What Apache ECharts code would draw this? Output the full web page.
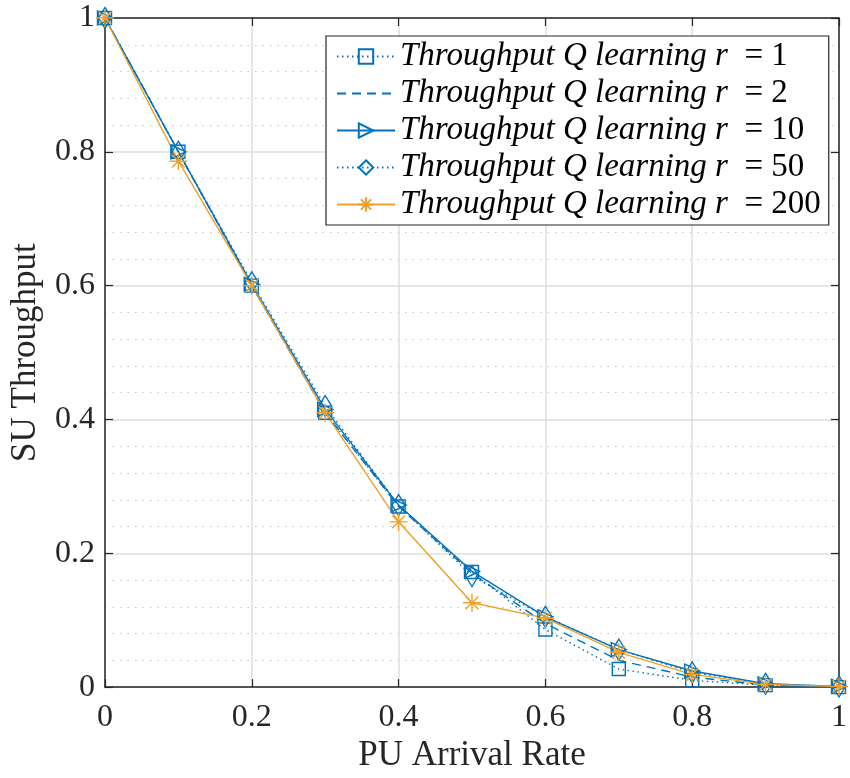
<!DOCTYPE html>
<html>
<head>
<meta charset="utf-8">
<script src="https://cdn.jsdelivr.net/npm/echarts@6/dist/echarts.min.js"></script>
<style>html,body{margin:0;padding:0;background:#fff}#c{width:850px;height:778px}</style>
</head>
<body>
<div id="c"></div>
<script>
const xValues = [0, 0.1, 0.2, 0.3, 0.4, 0.5, 0.6, 0.7, 0.8, 0.9, 1.0];
const r1   = [1, 0.800, 0.600, 0.410, 0.270, 0.172, 0.086, 0.027, 0.010, 0.003, 0.000];
const r2   = [1, 0.800, 0.600, 0.410, 0.270, 0.170, 0.095, 0.040, 0.015, 0.003, 0.000];
const r10  = [1, 0.800, 0.602, 0.415, 0.272, 0.173, 0.105, 0.056, 0.024, 0.005, 0.001];
const r50  = [1, 0.800, 0.605, 0.420, 0.272, 0.166, 0.105, 0.056, 0.022, 0.005, 0.001];
const r200 = [1, 0.786, 0.600, 0.410, 0.247, 0.126, 0.103, 0.052, 0.019, 0.004, 0.001];
const seriesNames = [
  'Throughput Q learning r = 1',
  'Throughput Q learning r = 2',
  'Throughput Q learning r = 10',
  'Throughput Q learning r = 50',
  'Throughput Q learning r = 200'
];
const xTicks = [0, 0.2, 0.4, 0.6, 0.8, 1];

const BLUE = '#0072BD';
const ORANGE = '#EDA02A';
const FONT = 'Liberation Serif';
const pair = ys => xValues.map((x, i) => [x, ys[i]]);
const star = 'path://M0,-10L0,10M-10,0L10,0M-7.07,-7.07L7.07,7.07M-7.07,7.07L7.07,-7.07';

const chart = echarts.init(document.getElementById('c'), null, {renderer: 'canvas'});
const axisColor = '#262626';
const legendData = seriesNames.map((n, i) => i === 1
  ? {name: n, itemStyle: {color: 'rgba(0,0,0,0)', borderColor: 'rgba(0,0,0,0)', borderWidth: 0}}
  : {name: n});
chart.setOption({
  animation: false,
  backgroundColor: '#fff',
  grid: {left: 100, right: 4, top: 18, bottom: 87, containLabel: false},
  legend: {
    orient: 'vertical', left: 326, top: 36,
    backgroundColor: '#fff', borderColor: '#262626', borderWidth: 1.2,
    padding: [4, 8, 4, 10], itemGap: 4, itemWidth: 58, itemHeight: 18,
    data: legendData,
    formatter: name => { const p = name.split(' = '); return '{i|' + p[0] + ' }{n| = ' + p[1] + '}'; },
    textStyle: {
      rich: {
        i: {fontFamily: FONT, fontStyle: 'italic', fontSize: 33, color: '#000'},
        n: {fontFamily: FONT, fontSize: 33, color: '#000'}
      }
    }
  },
  xAxis: [{
    type: 'value', min: 0, max: 1, interval: 0.2,
    name: 'PU Arrival Rate', nameLocation: 'middle', nameGap: 50,
    nameTextStyle: {fontFamily: FONT, fontSize: 35, color: axisColor},
    axisLine: {show: true, onZero: false, lineStyle: {color: axisColor, width: 1.5}},
    axisTick: {show: true, inside: true, length: 8, lineStyle: {color: axisColor, width: 1.2}},
    axisLabel: {fontFamily: FONT, fontSize: 32, color: axisColor, margin: 14,
      formatter: v => (v === 0 ? '0' : v === 1 ? '1' : v.toFixed(1))},
    splitLine: {show: true, lineStyle: {color: '#dedede', width: 1.5}}
  }, {
    type: 'value', min: 0, max: 1, interval: 0.2, position: 'top',
    axisLine: {show: true, onZero: false, lineStyle: {color: axisColor, width: 1.5}},
    axisTick: {show: true, inside: true, length: 8, lineStyle: {color: axisColor, width: 1.2}},
    axisLabel: {show: false}, splitLine: {show: false}
  }],
  yAxis: [{
    type: 'value', min: 0, max: 1, interval: 0.2,
    name: 'SU Throughput', nameLocation: 'middle', nameGap: 62,
    nameTextStyle: {fontFamily: FONT, fontSize: 35, color: axisColor},
    axisLine: {show: true, onZero: false, lineStyle: {color: axisColor, width: 1.5}},
    axisTick: {show: true, inside: true, length: 8, lineStyle: {color: axisColor, width: 1.2}},
    axisLabel: {fontFamily: FONT, fontSize: 32, color: axisColor, margin: 10,
      formatter: v => (v === 0 ? '0' : v === 1 ? '1' : v.toFixed(1))},
    splitLine: {show: true, lineStyle: {color: '#dedede', width: 1.5}},
    minorTick: {show: false, splitNumber: 5},
    minorSplitLine: {show: true, lineStyle: {color: '#c8c8c8', width: 1.2, type: [1.5, 6]}}
  }, {
    type: 'value', min: 0, max: 1, interval: 0.2, position: 'right',
    axisLine: {show: true, onZero: false, lineStyle: {color: axisColor, width: 1.5}},
    axisTick: {show: true, inside: true, length: 8, lineStyle: {color: axisColor, width: 1.2}},
    axisLabel: {show: false}, splitLine: {show: false}
  }],
  series: [
    {name: seriesNames[0], type: 'line', data: pair(r1), symbol: 'rect', symbolSize: 13,
     lineStyle: {color: BLUE, width: 1.4, type: [1.5, 3.5]},
     itemStyle: {color: 'rgba(0,0,0,0)', borderColor: BLUE, borderWidth: 1.4}},
    {name: seriesNames[1], type: 'line', data: pair(r2), symbol: 'none', showSymbol: false,
     lineStyle: {color: BLUE, width: 1.4, type: [9, 6]},
     itemStyle: {color: BLUE}},
    {name: seriesNames[2], type: 'line', data: pair(r10), symbol: 'triangle', symbolRotate: -90, symbolSize: [14, 15],
     lineStyle: {color: BLUE, width: 1.4},
     itemStyle: {color: 'rgba(0,0,0,0)', borderColor: BLUE, borderWidth: 1.4}},
    {name: seriesNames[3], type: 'line', data: pair(r50), symbol: 'diamond', symbolSize: [13, 21],
     lineStyle: {color: BLUE, width: 1.4, type: [1.5, 3.5]},
     itemStyle: {color: 'rgba(0,0,0,0)', borderColor: BLUE, borderWidth: 1.4}},
    {name: seriesNames[4], type: 'line', data: pair(r200), symbol: star, symbolSize: 18,
     lineStyle: {color: ORANGE, width: 1.4},
     itemStyle: {color: 'rgba(0,0,0,0)', borderColor: ORANGE, borderWidth: 1.4}}
  ]
});
</script>
</body>
</html>
